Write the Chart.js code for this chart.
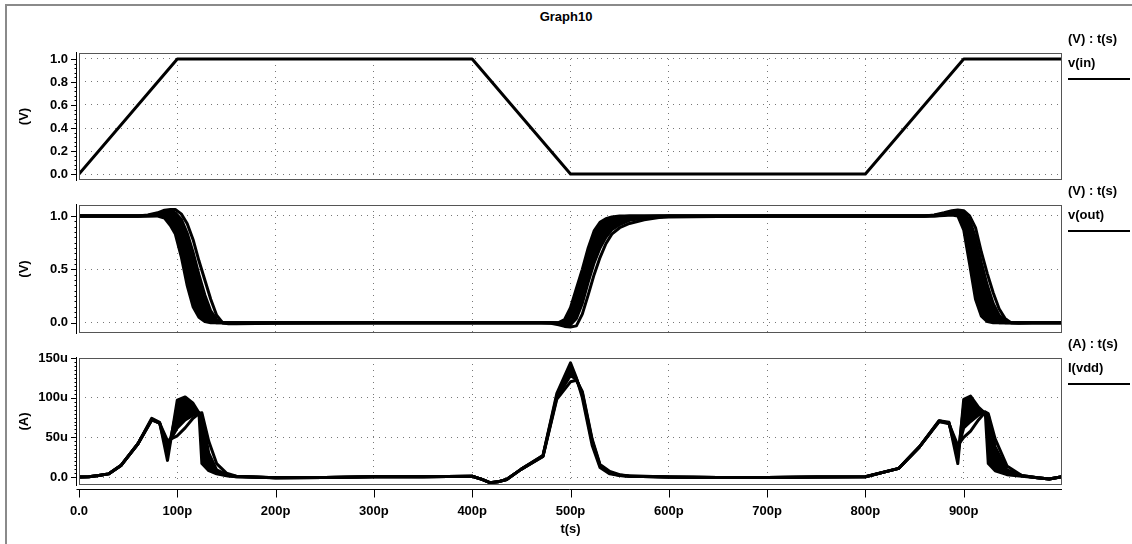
<!DOCTYPE html>
<html>
<head>
<meta charset="utf-8">
<title>Graph10</title>
<script src="https://cdn.jsdelivr.net/npm/chart.js@4.4.1/dist/chart.umd.min.js"></script>
<style>
  html, body { margin: 0; padding: 0; background: #fff; }
  #page { position: relative; width: 1132px; height: 544px; overflow: hidden;
          font-family: "Liberation Sans", Arial, sans-serif; }
  #frame { position: absolute; left: 5px; top: 4px; width: 1200px; height: 600px;
           border: 2px solid #8a8a8a; box-sizing: border-box; }
  #title { position: absolute; left: 0; top: 9px; width: 1132px; text-align: center;
           font-weight: bold; font-size: 13px; }
  canvas { position: absolute; left: 0; top: 0; }
</style>
</head>
<body>
<div id="page">
  <div id="frame"></div>
  <div id="title">Graph10</div>
  <canvas id="pIn" width="1132" height="544"></canvas>
  <canvas id="pOut" width="1132" height="544"></canvas>
  <canvas id="pVdd" width="1132" height="544"></canvas>
</div>
<script>
// time axis (ps)
const timeTicks = [0, 100, 200, 300, 400, 500, 600, 700, 800, 900];
const timeLabels = ['0.0', '100p', '200p', '300p', '400p', '500p', '600p', '700p', '800p', '900p'];

// v(in): input ramp
const inTime = [0, 100, 400, 500, 800, 900, 1000];
const inVolt = [0, 1, 1, 0, 0, 1, 1];
const inTicks = [0, 0.2, 0.4, 0.6, 0.8, 1.0];
const inLabels = ['0.0', '0.2', '0.4', '0.6', '0.8', '1.0'];

// v(out): monte carlo runs, fastest to slowest
const outTime = [
  0, 60, 70, 80, 87, 93, 98, 104, 110, 116, 122, 128, 134, 140, 146, 152, 160,
  200, 300, 400, 470, 480, 488,
  494, 500, 506, 512, 518, 524, 530, 536, 542, 550, 560, 575, 590, 600,
  700, 800, 860, 870,
  880, 888, 894, 900, 906, 912, 918, 924, 930, 936, 942, 948, 956, 970, 1000
];
const outFast = [
  1, 1, 1, 1, 0.98, 0.91, 0.83, 0.62, 0.35, 0.15, 0.05, 0.01, 0, 0, 0, 0, 0,
  0, 0, 0, 0, 0, 0,
  0.03, 0.14, 0.32, 0.5, 0.7, 0.86, 0.94, 0.975, 0.99, 1, 1, 1, 1, 1,
  1, 1, 1, 1,
  1.005, 1.01, 1.0, 0.87, 0.55, 0.22, 0.06, 0.01, 0, 0, 0, 0, 0, 0, 0
];
const outMid1 = [
  1, 1, 1, 1.005, 1.01, 0.99, 0.93, 0.78, 0.55, 0.3, 0.12, 0.04, 0.01, 0, 0, 0, 0,
  0, 0, 0, 0, 0, 0,
  0.01, 0.07, 0.22, 0.4, 0.6, 0.77, 0.88, 0.94, 0.97, 0.99, 1, 1, 1, 1,
  1, 1, 1, 1,
  1.01, 1.02, 1.02, 0.97, 0.78, 0.5, 0.24, 0.08, 0.02, 0, 0, 0, 0, 0, 0
];
const outMid2 = [
  1, 1, 1.005, 1.01, 1.03, 1.03, 1.0, 0.9, 0.72, 0.5, 0.28, 0.12, 0.04, 0.01, 0, 0, 0,
  0, 0, 0, 0, 0, -0.005,
  -0.01, 0.02, 0.12, 0.3, 0.5, 0.67, 0.8, 0.88, 0.93, 0.97, 0.985, 0.995, 1, 1,
  1, 1, 1, 1.005,
  1.015, 1.03, 1.035, 1.01, 0.9, 0.66, 0.4, 0.19, 0.07, 0.02, 0, 0, 0, 0, 0
];
const outMid3 = [
  1, 1, 1.005, 1.02, 1.04, 1.05, 1.03, 0.97, 0.84, 0.66, 0.45, 0.26, 0.11, 0.03, 0, -0.005, -0.005,
  0, 0, 0, 0, 0, -0.01,
  -0.02, -0.02, 0.04, 0.18, 0.38, 0.56, 0.7, 0.8, 0.87, 0.92, 0.96, 0.98, 0.99, 1,
  1, 1, 1, 1.008,
  1.02, 1.04, 1.045, 1.03, 0.96, 0.8, 0.56, 0.35, 0.18, 0.07, 0.02, 0, 0, 0, 0
];
const outSlow = [
  1, 1, 1.01, 1.03, 1.055, 1.06, 1.06, 1.02, 0.93, 0.78, 0.58, 0.4, 0.22, 0.07, 0, -0.01, -0.01,
  -0.005, 0, 0, 0, -0.005, -0.02,
  -0.035, -0.04, -0.03, 0.08, 0.26, 0.45, 0.61, 0.74, 0.83, 0.89, 0.93, 0.965, 0.985, 0.99,
  1, 1, 1, 1.01,
  1.03, 1.05, 1.056, 1.05, 1.0, 0.89, 0.66, 0.46, 0.28, 0.13, 0.04, 0, -0.005, 0, 0
];
const outTicks = [0, 0.5, 1.0];
const outLabels = ['0.0', '0.5', '1.0'];

// I(vdd) in uA: monte carlo runs
const curTime = [
  0, 10, 20, 30, 43, 60, 74, 82, 90, 100, 108, 116, 122, 125, 132, 140, 150, 160,
  200, 250, 300, 350, 400,
  410, 418, 426, 435, 450, 472, 486, 500, 506, 512, 522, 530, 540, 550, 560,
  600, 650, 700, 750, 800,
  834, 855, 875, 885, 894, 900, 907, 915, 922, 925, 932, 944, 959, 975, 987, 1000
];
const curA = [
  0, 0.5, 2, 4, 15, 42, 74, 69, 21, 97, 101, 93, 81, 17, 8, 4, 1.5, 0.5,
  -1, -0.5, 0.5, 0.5, 1,
  -3, -7, -6, -3, 10, 27, 105, 144, 125, 100, 40, 12, 4, 2, 1,
  0, -0.5, -0.5, 0, 0.4,
  11, 38, 71, 69, 17, 98, 102, 88, 80, 17, 8, 3, 1, -1, -2.5, 0.5
];
const curB = [
  0, 0.5, 2, 4, 15, 42, 73, 68, 30, 88, 95, 88, 80, 60, 22, 7, 2, 0.5,
  -1, -0.5, 0.5, 0.5, 1,
  -3, -7, -6, -3, 10, 27, 102, 135, 124, 104, 44, 14, 5, 2, 1,
  0, -0.5, -0.5, 0, 0.4,
  11, 38, 71, 68, 25, 90, 96, 86, 81, 62, 25, 6, 1.5, -1, -2.5, 0.5
];
const curC = [
  0, 0.5, 2, 4, 15, 42, 72, 68, 40, 62, 72, 78, 81, 78, 30, 9, 3, 1,
  -1, -0.5, 0.5, 0.5, 1,
  -3, -7, -6, -3, 10, 26, 100, 128, 123, 106, 46, 15, 6, 2.5, 1,
  0, -0.5, -0.5, 0, 0.4,
  11, 38, 70, 68, 34, 62, 70, 78, 82, 78, 38, 9, 2, -1, -2.5, 0.5
];
const curD = [
  0, 0.5, 2, 4, 15, 42, 72, 68, 46, 52, 62, 74, 80, 81, 45, 17, 5, 1,
  -1, -0.5, 0.5, 0.5, 1,
  -3, -7, -6, -3, 10, 26, 98, 120, 122, 108, 48, 16, 7, 3, 1.5,
  0, -0.5, -0.5, 0, 0.4,
  11, 38, 70, 67, 40, 50, 58, 72, 82, 80, 48, 14, 2, -1, -2.5, 0.5
];
const curTicks = [0, 50, 100, 150];
const curLabels = ['0.0', '50u', '100u', '150u'];

const FONT = '"Liberation Sans", Arial, sans-serif';
Chart.defaults.font.family = FONT;
Chart.defaults.font.size = 13;
Chart.defaults.font.weight = 'bold';
Chart.defaults.color = '#000';

function trace(time, vals, extra) {
  return Object.assign({
    data: time.map((t, i) => ({ x: t, y: vals[i] })),
    borderColor: '#000',
    backgroundColor: '#000',
    borderWidth: 3,
    borderJoinStyle: 'round',
    pointRadius: 0,
    fill: false
  }, extra || {});
}

// plot box, offset axis lines with ticks, and the signal name on the right
const scopeFrame = {
  id: 'scopeFrame',
  afterDraw(chart, args, opt) {
    const { ctx, chartArea: a, scales } = chart;
    const ys = scales.y, xs = scales.x;
    const L = a.left, T = a.top, R = a.right, B = a.bottom;
    ctx.save();
    ctx.lineWidth = 1;
    ctx.strokeStyle = '#555';
    ctx.strokeRect(L + 0.5, T + 0.5, R - L - 1, B - T - 1);

    ctx.strokeStyle = '#000';
    ctx.beginPath();
    ctx.moveTo(L - 2.5, T - 1);
    ctx.lineTo(L - 2.5, B + 1);
    ys.ticks.forEach((t, i) => {
      const py = Math.round(ys.getPixelForValue(t.value)) + 0.5;
      ctx.moveTo(L - 8, py);
      ctx.lineTo(L - 2.5, py);
      const next = ys.ticks[i + 1];
      if (!next) return;
      for (let k = 1; k < opt.minor; k++) {
        const v = t.value + (next.value - t.value) * k / opt.minor;
        const my = Math.round(ys.getPixelForValue(v)) + 0.5;
        ctx.moveTo(L - 4.5, my);
        ctx.lineTo(L - 2.5, my);
      }
    });
    if (opt.timeAxis) {
      const ay = B + 4.5;
      ctx.moveTo(L - 2.5, ay);
      ctx.lineTo(R, ay);
      xs.ticks.forEach(t => {
        const px = Math.round(xs.getPixelForValue(t.value)) + 0.5;
        ctx.moveTo(px, ay);
        ctx.lineTo(px, ay + 8);
      });
    }
    ctx.stroke();

    ctx.fillStyle = '#000';
    ctx.font = 'bold 13px ' + FONT;
    ctx.textAlign = 'left';
    ctx.textBaseline = 'middle';
    ctx.fillText(opt.unit, 1068, T - 14);
    ctx.fillText(opt.name, 1068, T + 10);
    ctx.lineWidth = 2;
    ctx.beginPath();
    ctx.moveTo(1068, T + 26);
    ctx.lineTo(1130, T + 26);
    ctx.stroke();
    ctx.restore();
  }
};

function panel(id, o) {
  const gridStyle = { color: '#777', lineWidth: 1, drawTicks: false };
  const dots = { display: false, dash: [1, 5] };
  return new Chart(document.getElementById(id), {
    type: 'line',
    data: { datasets: o.datasets },
    options: {
      responsive: false,
      animation: false,
      events: [],
      layout: { padding: { top: o.top, bottom: o.bottom, left: 0, right: 70 } },
      plugins: {
        legend: { display: false },
        tooltip: { enabled: false },
        scopeFrame: { unit: o.unit, name: o.name, minor: o.minor, timeAxis: !!o.timeAxis }
      },
      scales: {
        x: {
          type: 'linear',
          min: 0,
          max: 1000,
          afterBuildTicks: s => { s.ticks = timeTicks.map(v => ({ value: v })); },
          afterFit: s => { s.height = o.timeAxis ? 52 : 0; },
          grid: gridStyle,
          border: dots,
          ticks: {
            display: !!o.timeAxis,
            padding: 18.5,
            maxRotation: 0,
            autoSkip: false,
            callback: (v, i) => timeLabels[i]
          },
          title: { display: !!o.timeAxis, text: 't(s)', padding: 0 }
        },
        y: {
          type: 'linear',
          min: o.yMin,
          max: o.yMax,
          afterBuildTicks: s => { s.ticks = o.yTicks.map(v => ({ value: v })); },
          afterFit: s => { s.width = 79; },
          grid: gridStyle,
          border: dots,
          ticks: { padding: 11, autoSkip: false, callback: (v, i) => o.yLabels[i] },
          title: { display: true, text: o.axisTitle, padding: { top: 17, bottom: 0 } }
        }
      }
    },
    plugins: [scopeFrame]
  });
}

panel('pIn', {
  top: 53, bottom: 364,
  yMin: -0.052, yMax: 1.052, yTicks: inTicks, yLabels: inLabels, minor: 5,
  axisTitle: '(V)', unit: '(V) : t(s)', name: 'v(in)',
  datasets: [trace(inTime, inVolt)]
});

panel('pOut', {
  top: 205, bottom: 211,
  yMin: -0.097, yMax: 1.103, yTicks: outTicks, yLabels: outLabels, minor: 10,
  axisTitle: '(V)', unit: '(V) : t(s)', name: 'v(out)',
  datasets: [
    trace(outTime, outFast),
    trace(outTime, outMid1),
    trace(outTime, outMid2),
    trace(outTime, outMid3, { fill: 0 }),
    trace(outTime, outSlow)
  ]
});

panel('pVdd', {
  top: 358, bottom: 7, timeAxis: true,
  yMin: -10, yMax: 150, yTicks: curTicks, yLabels: curLabels, minor: 10,
  axisTitle: '(A)', unit: '(A) : t(s)', name: 'I(vdd)',
  datasets: [
    trace(curTime, curA),
    trace(curTime, curB),
    trace(curTime, curC, { fill: 0 }),
    trace(curTime, curD)
  ]
});
</script>
</body>
</html>
